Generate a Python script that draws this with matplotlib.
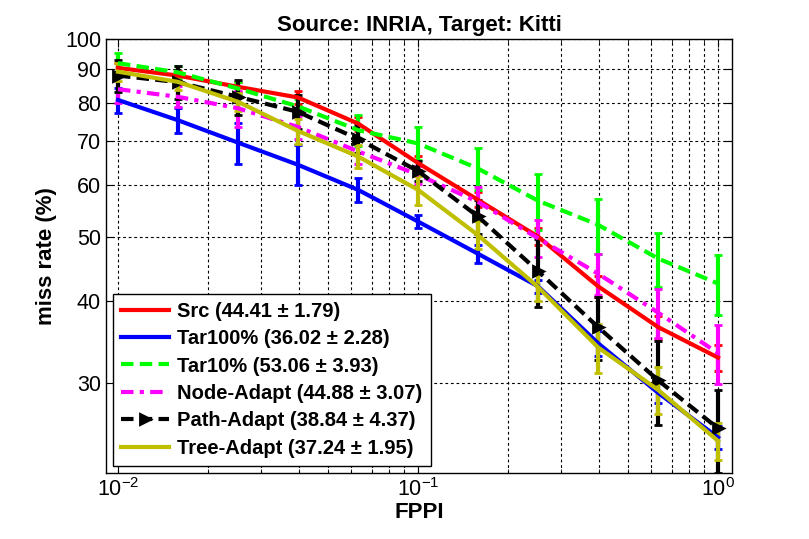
import matplotlib
matplotlib.use("Agg")
import matplotlib.pyplot as plt
from matplotlib.lines import Line2D
from matplotlib.ticker import FixedLocator, NullFormatter, LogLocator

plt.rcParams['font.family'] = ['Liberation Sans', 'DejaVu Sans']

fppi = [0.01, 0.0158, 0.0251, 0.0398, 0.0631, 0.1, 0.158, 0.251, 0.398, 0.631, 1.0]

src = [90.4, 88.0, 84.6, 81.5, 74.4, 64.8, 57.0, 50.1, 42.1, 36.5, 32.8]
src_err = [1.5, 1.5, 1.5, 1.8, 1.8, 1.5, 1.5, 1.5, 1.5, 1.5, 1.5]
tar100 = [80.8, 75.3, 69.6, 64.4, 59.0, 52.8, 47.2, 42.1, 34.5, 29.0, 24.8]
tar100_err = [3.5, 3.3, 5.0, 4.5, 2.4, 1.2, 1.5, 1.0, 1.5, 1.0, 1.0]
tar10 = [91.9, 89.0, 84.1, 79.0, 72.7, 69.4, 63.6, 56.8, 52.2, 46.4, 42.5]
tar10_err = [3.3, 2.0, 2.0, 2.0, 4.0, 4.0, 4.6, 5.5, 5.0, 4.4, 4.4]
node = [83.9, 81.7, 78.5, 73.5, 67.5, 62.2, 56.6, 49.8, 44.0, 38.4, 33.3]
node_err = [4.0, 3.0, 5.0, 3.0, 3.0, 2.0, 3.0, 3.2, 3.2, 3.3, 3.4]
path = [88.0, 86.0, 81.7, 77.5, 70.5, 63.0, 53.8, 44.4, 36.5, 30.3, 25.6]
path_err = [5.0, 5.0, 5.0, 4.6, 3.4, 2.2, 3.2, 5.2, 4.0, 4.4, 3.7]
tree = [89.2, 86.1, 80.3, 72.5, 66.3, 59.0, 50.4, 42.0, 34.0, 29.3, 24.5]
tree_err = [2.8, 2.5, 2.5, 3.2, 2.7, 3.0, 2.5, 2.0, 2.9, 2.4, 1.6]

labels = ["Src (44.41 \u00b1 1.79)", "Tar100% (36.02 \u00b1 2.28)", "Tar10% (53.06 \u00b1 3.93)",
          "Node-Adapt (44.88 \u00b1 3.07)", "Path-Adapt (38.84 \u00b1 4.37)", "Tree-Adapt (37.24 \u00b1 1.95)"]

series = [
    (src, src_err, dict(color='#ff0000', linestyle='-')),
    (tar100, tar100_err, dict(color='#0000ff', linestyle='-')),
    (tar10, tar10_err, dict(color='#00ff00', linestyle=(0, (3, 1.5)))),
    (node, node_err, dict(color='#ff00ff', linestyle=(0, (3, 1.5, 1, 1.5)))),
    (path, path_err, dict(color='#000000', linestyle=(0, (3, 1.5)), marker='>', markersize=7,
                          markeredgewidth=2)),
    (tree, tree_err, dict(color='#bfbf00', linestyle='-')),
]

fig = plt.figure(figsize=(8.09, 5.39), dpi=100)
ax = fig.add_axes([0.131, 0.1224, 0.774, 0.8052])

handles = []
for (vals, err, st), lab in zip(series, labels):
    ax.errorbar(fppi, vals, yerr=err, linewidth=3, elinewidth=3, capsize=3, capthick=2, **st)
    handles.append(Line2D([], [], linewidth=3, label=lab, **st))

ax.set_xscale('log')
ax.set_yscale('log')
ax.set_xlim(10**-2.04, 10**0.047)
ax.set_ylim(21.9, 100)

yt = [30, 40, 50, 60, 70, 80, 90, 100]
ax.yaxis.set_major_locator(FixedLocator(yt))
ax.yaxis.set_minor_locator(FixedLocator([]))
ax.set_yticklabels([str(v) for v in yt])
ax.yaxis.set_minor_formatter(NullFormatter())
ax.xaxis.set_major_locator(FixedLocator([0.01, 0.1, 1.0]))
ax.xaxis.set_minor_locator(LogLocator(base=10, subs=range(2, 10)))
ax.xaxis.set_minor_formatter(NullFormatter())

ax.grid(True, which='major', color='black', linestyle=(0, (2.5, 2.5)), linewidth=0.8)
ax.grid(True, which='minor', axis='x', color='black', linestyle=(0, (2.5, 2.5)), linewidth=0.8)
ax.set_axisbelow(True)

ax.tick_params(which='both', direction='in', top=True, right=True, labelsize=15.5)
ax.tick_params(which='major', length=6)
ax.tick_params(which='minor', length=3)
for s in ax.spines.values():
    s.set_linewidth(1.0)

ax.set_title("Source: INRIA, Target: Kitti", fontsize=16, fontweight='bold', pad=6)
ax.set_xlabel("FPPI", fontsize=16, fontweight='bold', labelpad=1)
ax.set_ylabel("miss rate (%)", fontsize=16, fontweight='bold', labelpad=6)

leg = ax.legend(handles=handles, loc='lower left', prop=dict(size=14.5, weight='bold'),
                frameon=True, fancybox=False, edgecolor='black', framealpha=1,
                borderaxespad=0.35, handlelength=2.4, handletextpad=0.4, numpoints=1,
                labelspacing=0.42, borderpad=0.4)
leg.get_frame().set_linewidth(1.0)

fig.savefig("out.png", dpi=100)
